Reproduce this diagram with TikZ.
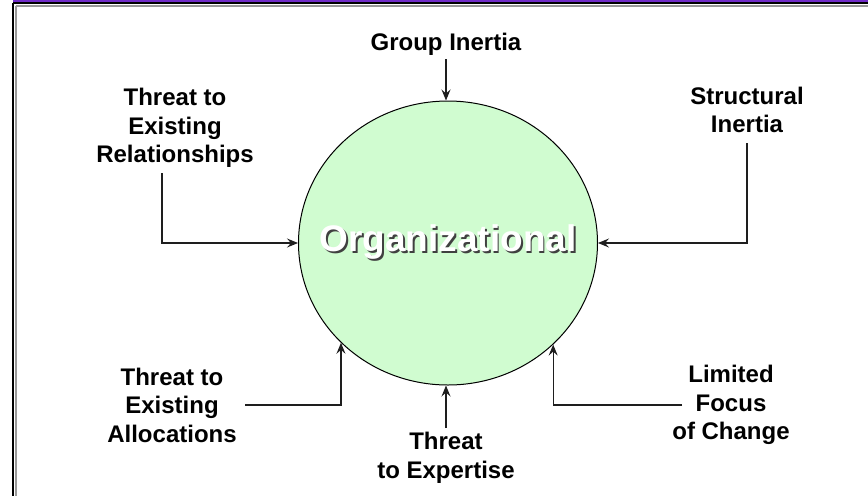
\documentclass[tikz,border=0pt]{standalone}
\usepackage{fontspec}
\setmainfont{Liberation Sans}
\usetikzlibrary{shapes.geometric,arrows.meta}

\definecolor{barpurple}{RGB}{112,44,200}
\definecolor{orgfill}{RGB}{208,252,208}
\definecolor{inkline}{RGB}{30,30,30}

% white lettering with a dark drop shadow
\newcommand{\shadowtext}[1]{%
  \rlap{\hspace{1.8pt}\raisebox{-1.8pt}{\textcolor{black!75}{#1}}}\textcolor{white}{#1}}

\tikzset{
  label/.style={align=center, font=\bfseries\fontsize{24}{28.5}\selectfont, inner sep=0pt},
  link/.style={draw=inkline, line width=1.1pt, -{Stealth[length=11pt,width=9pt,inset=4pt]}},
  framedark/.style={draw=black, line width=1.6pt},
  framegray/.style={draw=gray!80, line width=1.6pt}
}

\begin{document}
\begin{tikzpicture}[x=1pt,y=-1pt]
  \useasboundingbox (0,0) rectangle (868,496);
  \fill[white] (0,0) rectangle (868,496);

  % slide frame: purple title strip, dark and grey rules
  \fill[barpurple] (13,0) rectangle (868,2.6);
  \draw[framedark] (13,3.2) -- (868,3.2);
  \draw[framegray] (15.5,5.8) -- (868,5.8);
  \draw[framedark] (13,3) -- (13,496);
  \draw[framegray] (15.8,5.6) -- (15.8,496);

  % central circle
  \node[ellipse, draw=black, line width=1pt, fill=orgfill,
        minimum width=299pt, minimum height=284pt, inner sep=0pt] (org) at (448,243) {};
  \node[font=\bfseries\fontsize{37}{40}\selectfont] (orgtext) at (448,243) {\shadowtext{Organizational}};

  % pressures acting on the organization
  \node[label] (gi)   at (446,44)  {Group Inertia};
  \node[label] (rel)  at (175,128) {Threat to\\Existing\\Relationships};
  \node[label] (str)  at (747,110) {Structural\\Inertia};
  \node[label] (alo)  at (172,405) {Threat to\\Existing\\Allocations};
  \node[label] (exp)  at (446,458) {Threat\\to Expertise};
  \node[label] (lim)  at (731,405) {Limited\\Focus\\of Change};

  % free ends of the connectors
  \coordinate (giS)  at (446,59);
  \coordinate (relS) at (162,173);
  \coordinate (strS) at (747,143);
  \coordinate (aloS) at (245,405);
  \coordinate (expS) at (446,428);
  \coordinate (limS) at (682,405);

  \draw[link] (giS) -- (giS |- org.north);
  \draw[link] (relS) |- (org.west);
  \draw[link] (strS) |- (org.east);
  \draw[link] (aloS) -| (org.223.4);
  \draw[link] (expS) -- (expS |- org.south);
  \draw[link] (limS) -| (org.316.6);
\end{tikzpicture}
\end{document}
